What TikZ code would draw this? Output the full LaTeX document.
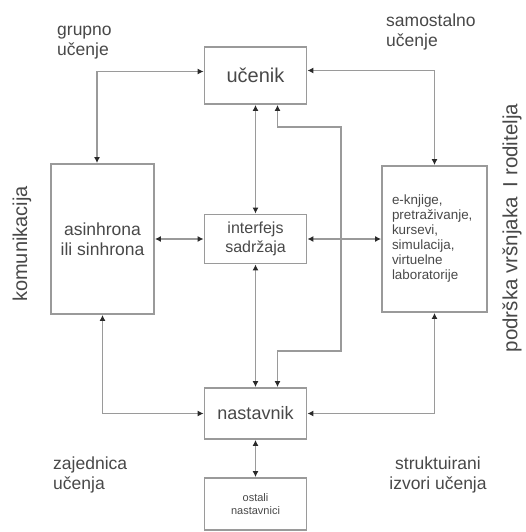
\documentclass[tikz,border=0pt]{standalone}
\usepackage{fontspec}
\setmainfont{Liberation Sans}
\usetikzlibrary{positioning, arrows.meta}
\definecolor{boxgray}{HTML}{9A9A9A}
\definecolor{txtgray}{HTML}{484848}
\definecolor{tipgray}{HTML}{2A2A2A}

\begin{document}
\begin{tikzpicture}[x=1pt,y=-1pt,
    box/.style={draw=boxgray,line width=1.8pt,text=txtgray,align=center,inner sep=0pt,minimum width=102pt},
    lbl/.style={text=txtgray,align=left,inner sep=0pt,font=\fontsize{17.5}{20}\selectfont},
    link/.style={draw=boxgray,line width=1.8pt,{Latex[length=6pt,width=6pt,color=tipgray]}-{Latex[length=6pt,width=6pt,color=tipgray]}}
  ]
  \useasboundingbox (0,0) rectangle (526,532);

  \node[box,minimum height=57pt,font=\fontsize{20}{22}\selectfont] (ucenik) at (255.5,75.5) {učenik};
  \node[box,minimum width=103pt,minimum height=150pt,font=\fontsize{17.5}{20}\selectfont] (asin) at (102.5,239) {asinhrona\\ili sinhrona};
  \node[box,minimum height=49pt,font=\fontsize{16}{19}\selectfont] (inter) at (255.5,239) {interfejs\\sadržaja};
  \node[box,minimum width=105pt,minimum height=146pt,text width=85pt,inner xsep=10pt,align=left,font=\fontsize{13.4}{15}\selectfont] (ekn) at (434.5,239) {e-knjige,\\pretraživanje,\\kursevi,\\simulacija,\\virtuelne\\laboratorije};
  \node[box,minimum height=51pt,font=\fontsize{18}{20}\selectfont] (nast) at (255.5,413.5) {nastavnik};
  \node[box,minimum height=52pt,font=\fontsize{11}{13}\selectfont] (ostali) at (255.5,504) {ostali\\nastavnici};

  \node[lbl,anchor=north west] (grupno) at (57,26) {grupno\\učenje};
  \node[lbl,anchor=north west] (samost) at (386,14) {samostalno\\učenje};
  \node[lbl,anchor=north west] (zajed) at (53,457) {zajednica\\učenja};
  \node[lbl,anchor=north,align=center] (strukt) at (438,457) {struktuirani\\izvori učenja};
  \node[lbl,rotate=90,font=\fontsize{20}{22}\selectfont] (komun) at (22,244) {komunikacija};
  \node[lbl,rotate=90,font=\fontsize{20.5}{22}\selectfont] (podrska) at (512,228) {podrška vršnjaka\hspace{0.5em}I roditelja};

  \draw[link] ([yshift=4pt]ucenik.west) -| ([xshift=-5.5pt]asin.north);
  \draw[link] ([yshift=5pt]ucenik.east) -| (ekn.north);
  \draw[link] (ucenik.south) -- (inter.north);
  \draw[link] (asin.east) -- (inter.west);
  \draw[link] (inter.east) -- (ekn.west);
  \draw[link] (inter.south) -- (nast.north);
  \draw[link] (nast.south) -- (ostali.north);
  \draw[link] (asin.south) |- (nast.west);
  \draw[link] (ekn.south) |- (nast.east);

  % bypass from ucenik down to nastavnik
  \coordinate (topbend) at (341,127);
  \coordinate (lowbend) at (341,351);
  \draw[link] ([xshift=22pt]ucenik.south) |- (topbend) -- (lowbend) -| ([xshift=22pt]nast.north);

\end{tikzpicture}
\end{document}
